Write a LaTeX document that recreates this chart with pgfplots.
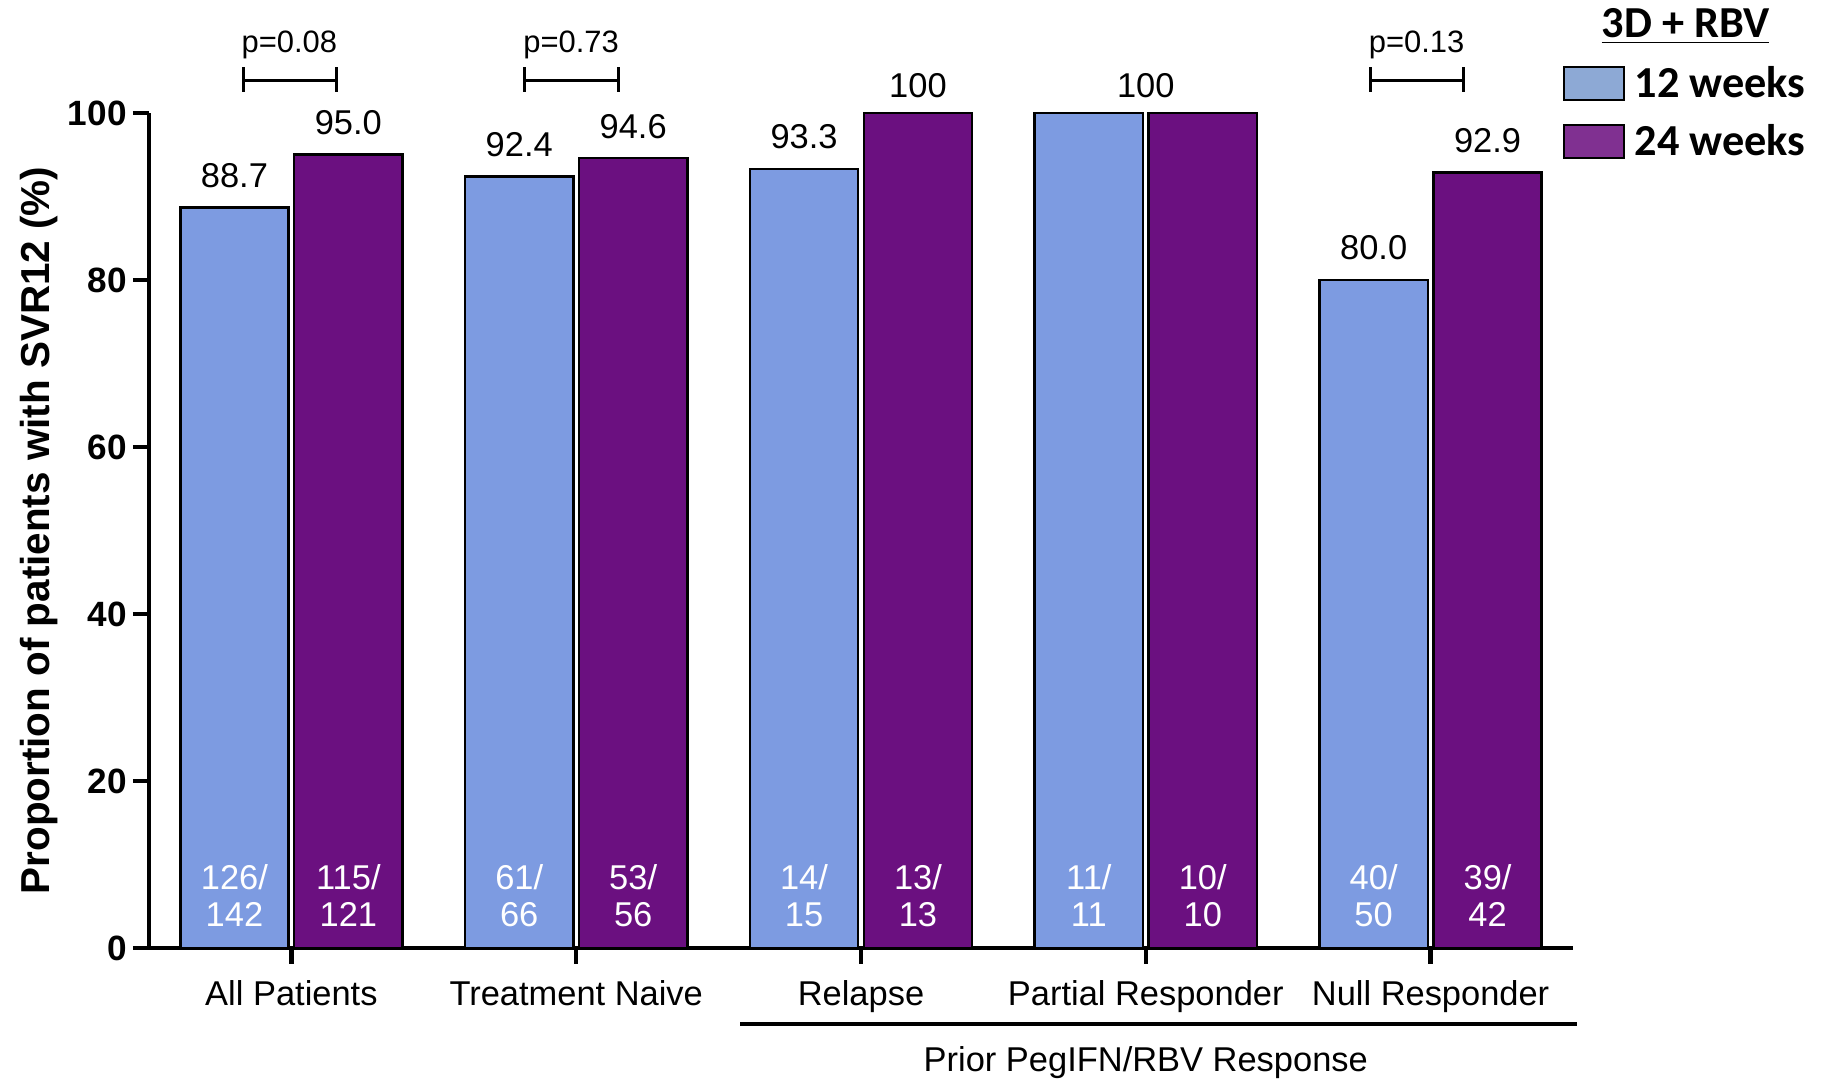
\documentclass[border=0pt]{standalone}
\usepackage{pgfplots}
\pgfplotsset{compat=1.18}
\usepackage{pgfplotstable}
\usepackage{fontspec}
\setmainfont{Liberation Sans}
\newfontfamily\calfont{Carlito}
\definecolor{barblue}{RGB}{125,155,225}
\definecolor{barpurple}{RGB}{107,16,128}
\definecolor{legblue}{RGB}{141,169,213}
\definecolor{legpurple}{RGB}{128,48,145}

\pgfplotstableread{
x y lab
0 88.7 88.7
1 92.4 92.4
2 93.3 93.3
3 100 {}
4 80.0 80.0
}\twelve
\pgfplotstableread{
x y lab
0 95.0 95.0
1 94.6 94.6
2 100 {}
3 100 {}
4 92.9 92.9
}\twentyfour

\begin{document}
\begin{tikzpicture}
\path[use as bounding box] (-14.9mm,-13.2mm) rectangle (167.2mm,94.8mm);
\begin{axis}[
  at={(0,0)}, anchor=south west,
  scale only axis, width=142.4mm, height=83.5mm,
  xmin=-0.5, xmax=4.5, ymin=0, ymax=100,
  axis x line*=bottom, axis y line*=left,
  axis line style={line width=0.45mm},
  tick style={line width=0.45mm, black},
  tick align=outside, major tick length=1.6mm,
  ybar, bar width=0.38,
  clip=false,
  /pgf/number format/assume math mode=true,
  xtick={0,1,2,3,4},
  xticklabels={All Patients,Treatment Naive,Relapse,Partial Responder,Null Responder},
  xticklabel style={anchor=base, yshift=-4.2mm, font=\fontsize{9.8}{11}\selectfont},
  ytick={0,20,40,60,80,100},
  yticklabel style={font=\bfseries\fontsize{10}{12}\selectfont, xshift=0.6mm},
  ylabel={Proportion of patients with SVR12 (\%)},
  ylabel style={font=\bfseries\fontsize{11.5}{13}\selectfont, at={(axis description cs:-0.0775,0.5)}, anchor=center},
  nodes near coords,
  every node near coord/.append style={anchor=base, yshift=2mm, font=\fontsize{9.8}{11}\selectfont, text=black},
  legend style={at={(axis description cs:0.9923,1.057)}, anchor=north west, draw=none, fill=none, inner sep=0pt,
    font=\calfont\bfseries\fontsize{12.6}{14}\selectfont, row sep=2.1mm, column sep=1mm, nodes={inner sep=0pt}},
  legend cell align=left,
]
\addplot[fill=barblue, draw=black, line width=0.25mm, bar shift=-0.2, point meta=explicit symbolic, forget plot]
  table[x=x, y=y, meta=lab] {\twelve};
\addplot[fill=barpurple, draw=black, line width=0.25mm, bar shift=0.2, point meta=explicit symbolic, forget plot]
  table[x=x, y=y, meta=lab] {\twentyfour};

\addlegendimage{legend image code/.code={\draw[fill=legblue, draw=black, line width=0.2mm] (0mm,-1.55mm) rectangle (6mm,1.75mm);}}
\addlegendentry{12 weeks}
\addlegendimage{legend image code/.code={\draw[fill=legpurple, draw=black, line width=0.2mm] (0mm,-1.55mm) rectangle (6mm,1.75mm);}}
\addlegendentry{24 weeks}

\node[font=\calfont\bfseries\fontsize{12.6}{14}\selectfont] at (rel axis cs:1.079,1.1035) {\underline{3D + RBV}};

% labels at 100
\node[anchor=base, font=\fontsize{9.8}{11}\selectfont] at (axis cs:2.2,101.9) {100};
\node[anchor=base, font=\fontsize{9.8}{11}\selectfont] at (axis cs:3,101.9) {100};

% fractions inside bars
\tikzset{frac/.style={text=white, align=center, font=\fontsize{9.8}{10.5}\selectfont, anchor=center}}
\node[frac] at (axis cs:-0.2,6.29) {126/\\142};
\node[frac] at (axis cs:0.2,6.29) {115/\\121};
\node[frac] at (axis cs:0.8,6.29) {61/\\66};
\node[frac] at (axis cs:1.2,6.29) {53/\\56};
\node[frac] at (axis cs:1.8,6.29) {14/\\15};
\node[frac] at (axis cs:2.2,6.29) {13/\\13};
\node[frac] at (axis cs:2.8,6.29) {11/\\11};
\node[frac] at (axis cs:3.2,6.29) {10/\\10};
\node[frac] at (axis cs:3.8,6.29) {40/\\50};
\node[frac] at (axis cs:4.2,6.29) {39/\\42};

% p-value brackets
\draw[line width=0.3mm] (axis cs:-0.169,105.5) -- (axis cs:-0.169,102.55)
  (axis cs:-0.169,103.95) -- (axis cs:0.160,103.95)
  (axis cs:0.160,105.5) -- (axis cs:0.160,102.55);
\node[anchor=base, font=\fontsize{8.8}{10}\selectfont] at (axis cs:-0.007,107.2) {p=0.08};
\draw[line width=0.3mm] (axis cs:0.819,105.5) -- (axis cs:0.819,102.55)
  (axis cs:0.819,103.95) -- (axis cs:1.148,103.95)
  (axis cs:1.148,105.5) -- (axis cs:1.148,102.55);
\node[anchor=base, font=\fontsize{8.8}{10}\selectfont] at (axis cs:0.982,107.2) {p=0.73};
\draw[line width=0.3mm] (axis cs:3.788,105.5) -- (axis cs:3.788,102.55)
  (axis cs:3.788,103.95) -- (axis cs:4.114,103.95)
  (axis cs:4.114,105.5) -- (axis cs:4.114,102.55);
\node[anchor=base, font=\fontsize{8.8}{10}\selectfont] at (axis cs:3.951,107.2) {p=0.13};

% group line and label
\draw[line width=0.4mm] (axis cs:1.576,-9.1) -- (axis cs:4.515,-9.1);
\node[anchor=base, font=\fontsize{9.8}{11}\selectfont] at (axis cs:3.0,-14.85) {Prior PegIFN/RBV Response};
\end{axis}
\end{tikzpicture}
\end{document}
